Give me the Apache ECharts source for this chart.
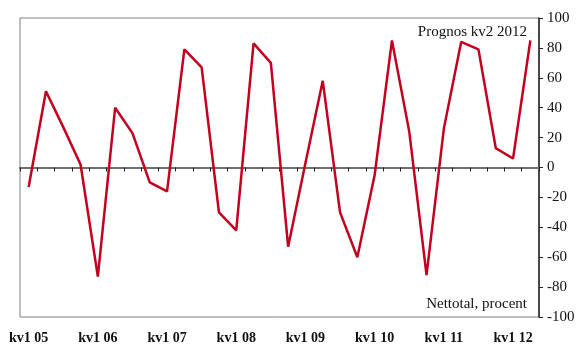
<!DOCTYPE html>
<html>
<head>
<meta charset="utf-8">
<script src="https://cdn.jsdelivr.net/npm/echarts@6/dist/echarts.min.js"></script>
<style>html,body{margin:0;padding:0;background:#fff}#c{width:580px;height:345px}</style>
</head>
<body>
<div id="c"></div>
<script>
const categories = [
  'kv1 05','kv2 05','kv3 05','kv4 05',
  'kv1 06','kv2 06','kv3 06','kv4 06',
  'kv1 07','kv2 07','kv3 07','kv4 07',
  'kv1 08','kv2 08','kv3 08','kv4 08',
  'kv1 09','kv2 09','kv3 09','kv4 09',
  'kv1 10','kv2 10','kv3 10','kv4 10',
  'kv1 11','kv2 11','kv3 11','kv4 11',
  'kv1 12','kv2 12'
];
const nettotal = [
  -13, 51, 27, 2,
  -73, 40, 23, -10,
  -16, 79, 67, -30,
  -42, 83, 70, -53,
  3, 58, -30, -60,
  -5, 85, 24, -72,
  26, 84, 79, 13,
  6, 85
];
const yTicks = { min: -100, max: 100, interval: 20 };
const annotationTop = 'Prognos kv2 2012';
const annotationBottom = 'Nettotal, procent';

const font = 'Liberation Serif, Times New Roman, serif';
const chart = echarts.init(document.getElementById('c'), null, { renderer: 'canvas' });
chart.setOption({
  animation: false,
  grid: { left: 20, right: 41, top: 18, bottom: 26, show: true, borderColor: '#7f7f7f', borderWidth: 1, backgroundColor: 'transparent' },
  xAxis: [
    {
      type: 'category', data: categories, boundaryGap: true,
      axisLine: { onZero: true, lineStyle: { color: '#707070', width: 2 } },
      axisTick: { show: true, interval: 0, length: 4, lineStyle: { color: '#222', width: 1 } },
      axisLabel: { show: false }, splitLine: { show: false }
    },
    {
      type: 'category', data: categories, boundaryGap: true, position: 'bottom',
      axisLine: { show: false, onZero: false }, axisTick: { show: false },
      axisLabel: { interval: 3, margin: 14, color: '#111', fontFamily: font, fontSize: 14, fontWeight: 'bold' },
      splitLine: { show: false }
    }
  ],
  yAxis: {
    type: 'value', position: 'right', min: yTicks.min, max: yTicks.max, interval: yTicks.interval,
    axisLine: { show: true, lineStyle: { color: '#222', width: 1.5 } },
    axisTick: { show: true, length: 4, lineStyle: { color: '#222' } },
    axisLabel: { margin: 8, color: '#111', fontFamily: font, fontSize: 15 },
    splitLine: { show: false }
  },
  graphic: [
    { type: 'text', right: 53, top: 25, style: { text: annotationTop, fill: '#111', font: '15px ' + font, textAlign: 'right' } },
    { type: 'text', right: 53, top: 297, style: { text: annotationBottom, fill: '#111', font: '15px ' + font, textAlign: 'right' } }
  ],
  series: [{
    type: 'line', data: nettotal, xAxisIndex: 0, symbol: 'none',
    lineStyle: { color: '#C4001F', width: 2.5 }
  }]
});
</script>
</body>
</html>
